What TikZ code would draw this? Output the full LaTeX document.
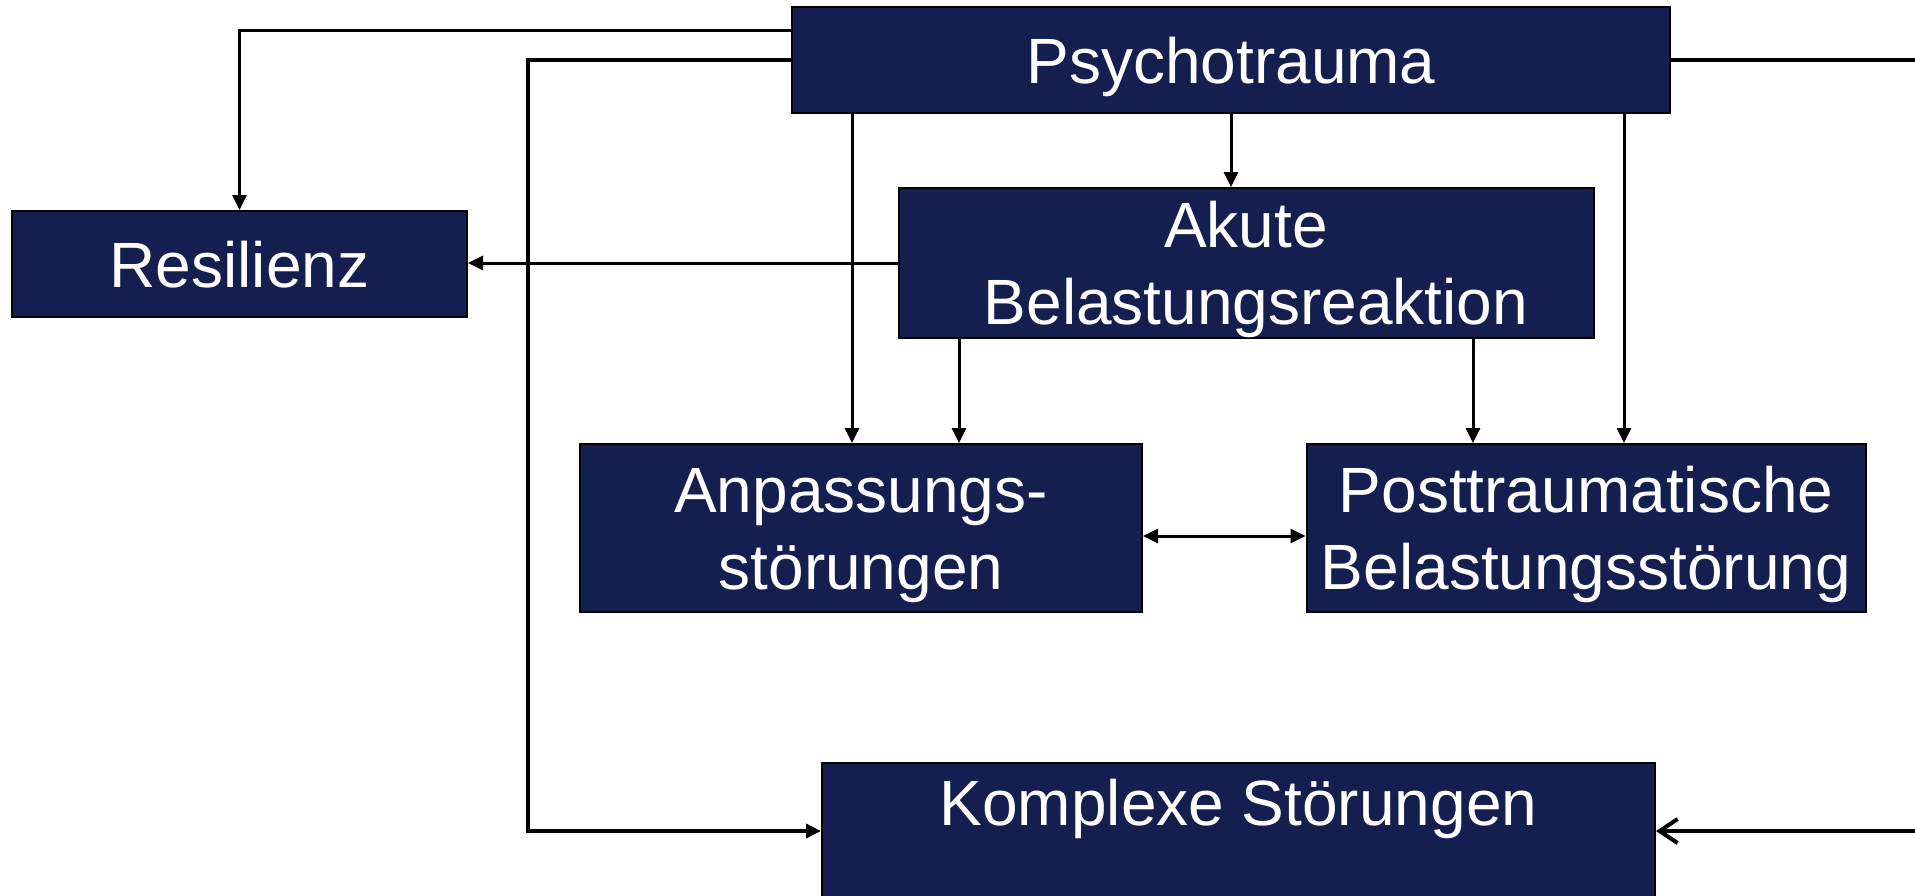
\documentclass[tikz,border=0pt]{standalone}
\usepackage{fontspec}
\setmainfont{Liberation Sans}
\usetikzlibrary{arrows.meta}
\definecolor{boxblue}{RGB}{20,30,79}
\newcommand{\tl}[1]{\smash{#1}\rule{0pt}{46pt}}
\begin{document}
\begin{tikzpicture}[x=1pt,y=-1pt,
  box/.style={draw=black, line width=2pt, fill=boxblue, text=white, inner sep=0pt,
    font=\fontsize{64}{76.5}\selectfont, align=center},
  conn/.style={line width=3pt, draw=black},
  arr/.style={conn, -{Triangle[length=15pt,width=14pt]}},
  darr/.style={conn, {Triangle[length=15pt,width=14pt]}-{Triangle[length=15pt,width=14pt]}},
  oarr/.style={line width=4pt, draw=black, -{Straight Barb[length=18pt,width=24pt]}}]
\useasboundingbox (0,0) rectangle (1915,895);
\clip (0,0) rectangle (1915,895);
\fill[white] (0,0) rectangle (1915,895);

\node[box, minimum width=878pt, minimum height=106pt] (psy) at (1231,60) {\tl{Psychotrauma}};
\node[box, minimum width=455pt, minimum height=106pt] (res) at (239.5,264) {\tl{Resilienz}};
\node[box, minimum width=695pt, minimum height=150pt] (akute) at (1246,263) {\tl{Akute}\\\hspace*{20pt}\tl{Belastungsreaktion}};
\node[box, minimum width=562pt, minimum height=168pt] (anp) at (861,528) {\tl{Anpassungs-}\\\tl{störungen}};
\node[box, minimum width=559pt, minimum height=168pt] (ptbs) at (1586,528) {\tl{Posttraumatische}\\\tl{Belastungsstörung}};
\node[box, minimum width=833pt, minimum height=160pt, text height=46pt, text depth=82pt] (komp) at (1238.5,843) {Komplexe Störungen};

\coordinate (kin) at (528,831);
\coordinate (offR) at (1940,60);
\coordinate (offR2) at (1940,831);

% Psychotrauma -> Resilienz
\draw[arr] ([yshift=29.5pt]psy.west) -| (res.north);
% Psychotrauma -> Komplexe (left)
\draw[arr, line width=3.5pt] (psy.west) -| (kin) -- (kin -| komp.west);
% Psychotrauma right line and return to Komplexe
\draw[line width=4pt] (psy.east) -- (offR);
\draw[oarr] (offR2) -- (offR2 -| komp.east);
% Psychotrauma -> Akute
\draw[arr] (psy.south) -- (psy.south |- akute.north);
% Psychotrauma -> Anpassung
\draw[arr] ([xshift=-379pt]psy.south) -- ([xshift=-379pt]psy.south |- anp.north);
% Psychotrauma -> PTBS
\draw[arr] ([xshift=393pt]psy.south) -- ([xshift=393pt]psy.south |- ptbs.north);
% Akute -> Anpassung
\draw[arr] ([xshift=-287pt]akute.south) -- ([xshift=-287pt]akute.south |- anp.north);
% Akute -> PTBS
\draw[arr] ([xshift=227pt]akute.south) -- ([xshift=227pt]akute.south |- ptbs.north);
% Akute -> Resilienz
\draw[arr] (akute.west) -- (akute.west -| res.east);
% Anpassung <-> PTBS
\draw[darr] ([yshift=-8pt]anp.east) -- ([yshift=-8pt]anp.east -| ptbs.west);
\end{tikzpicture}
\end{document}
